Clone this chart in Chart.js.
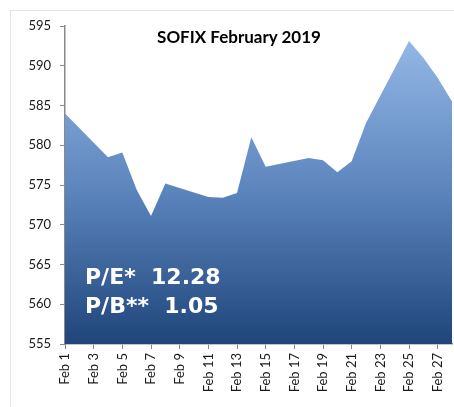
<!DOCTYPE html>
<html>
<head>
<meta charset="utf-8">
<script src="https://cdn.jsdelivr.net/npm/chart.js@4"></script>
<style>
  body { margin: 0; background: #fff; }
  #wrap { position: relative; width: 454px; height: 407px; overflow: hidden; }
  #frame { position: absolute; left: 10px; top: 10px; width: 460px; height: 420px;
           border-left: 1px solid #dce6f2; border-top: 1px solid #dce6f2; }
  #title { position: absolute; left: 0; width: 478px; top: 26px; text-align: center;
           font: bold 17px Lato, sans-serif; color: #000; }
  .ratio { position: absolute; left: 85px; font: bold 22px "DejaVu Sans", sans-serif;
           color: #fff; white-space: pre; line-height: 29px; }
  canvas { position: absolute; left: 0; top: 0; }
</style>
</head>
<body>
<div id="wrap">
  <div id="frame"></div>
  <canvas id="sofixChart" width="454" height="407"></canvas>
  <div id="title">SOFIX February 2019</div>
  <div class="ratio" style="top:262px">P/E*  12.28</div>
  <div class="ratio" style="top:291px">P/B**  1.05</div>
</div>
<script>
// dni от месеца (уикендите са празни - линията ги прескача)
const days = ['Feb 1', 'Feb 2', 'Feb 3', 'Feb 4', 'Feb 5', 'Feb 6', 'Feb 7', 'Feb 8', 'Feb 9', 'Feb 10',
  'Feb 11', 'Feb 12', 'Feb 13', 'Feb 14', 'Feb 15', 'Feb 16', 'Feb 17', 'Feb 18', 'Feb 19', 'Feb 20',
  'Feb 21', 'Feb 22', 'Feb 23', 'Feb 24', 'Feb 25', 'Feb 26', 'Feb 27', 'Feb 28'];

const sofixValues = [584.0, null, null, 578.5, 579.1, 574.4, 571.1, 575.2, null, null,
  573.5, 573.4, 574.0, 581.0, 577.3, null, null, 578.4, 578.1, 576.6,
  578.0, 582.8, null, null, 593.1, 591.0, 588.5, 585.5];

const yMin = 555;
const yMax = 595;
const yStep = 5;

const axisGray = '#898989';
const tickFont = { family: 'Lato, sans-serif', size: 13 };

function areaGradient(context) {
  const chart = context.chart;
  const area = chart.chartArea;
  if (!area) return '#5b84bc';
  const top = chart.scales.y.getPixelForValue(593);
  const g = chart.ctx.createLinearGradient(0, top, 0, area.bottom);
  g.addColorStop(0, '#93b7e5');
  g.addColorStop(0.5, '#5b84bc');
  g.addColorStop(1, '#1f457b');
  return g;
}

new Chart(document.getElementById('sofixChart'), {
  type: 'line',
  data: {
    labels: days,
    datasets: [{
      data: sofixValues,
      fill: 'origin',
      backgroundColor: areaGradient,
      borderWidth: 0,
      borderColor: 'rgba(0,0,0,0)',
      pointRadius: 0,
      tension: 0,
      spanGaps: true
    }]
  },
  options: {
    responsive: false,
    animation: false,
    layout: { padding: { top: 26, right: 2, left: 0, bottom: 0 } },
    plugins: { legend: { display: false }, tooltip: { enabled: false } },
    scales: {
      x: {
        offset: false,
        afterFit: (scale) => {
          scale.height = 63;
          scale.paddingRight = 0;
          scale.paddingLeft = 0;
        },
        grid: {
          drawOnChartArea: false,
          tickLength: 5,
          color: (ctx) => (ctx.index % 2 === 0 ? axisGray : 'rgba(0,0,0,0)')
        },
        border: { color: axisGray, width: 1.5 },
        ticks: {
          autoSkip: false,
          minRotation: 90,
          maxRotation: 90,
          padding: 4,
          color: '#1a1a1a',
          font: tickFont,
          callback: (val, i) => (i % 2 === 0 ? days[i] : '')
        }
      },
      y: {
        min: yMin,
        max: yMax,
        afterFit: (scale) => { scale.width = 65; },
        grid: { drawOnChartArea: false, tickLength: 5, color: axisGray },
        border: { color: axisGray, width: 1.5 },
        ticks: { stepSize: yStep, padding: 9, color: '#1a1a1a', font: tickFont }
      }
    }
  }
});
</script>
</body>
</html>
